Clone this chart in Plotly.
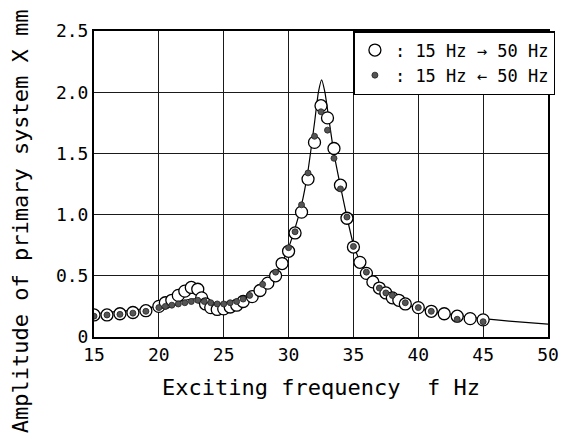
import plotly.graph_objects as go

# Theoretical curve
curve_f = [15, 16, 17, 18, 19, 20, 21, 22, 22.5, 23, 23.5, 24, 24.5, 25, 26, 27, 28, 29, 29.5,
           30, 30.5, 31, 31.5, 32, 32.3, 32.55, 32.8, 33.0, 33.5, 34, 34.5, 35, 35.5, 36, 37,
           38, 39, 40, 41, 42, 43, 44, 45, 47, 50]
curve_x = [0.19, 0.20, 0.21, 0.22, 0.235, 0.255, 0.28, 0.30, 0.31, 0.31, 0.30, 0.285, 0.275,
           0.275, 0.29, 0.33, 0.40, 0.52, 0.61, 0.73, 0.89, 1.08, 1.36, 1.75, 2.00, 2.10,
           2.00, 1.86, 1.50, 1.23, 0.98, 0.755, 0.62, 0.52, 0.40, 0.32, 0.27, 0.235, 0.21,
           0.19, 0.175, 0.16, 0.15, 0.13, 0.105]

# Measured, 15 Hz -> 50 Hz (open circles)
up_f = [15, 16, 17, 18, 19, 20, 20.5, 21, 21.5, 22, 22.5, 23, 23.3, 23.6, 24, 24.5, 25, 25.5,
        26, 26.5, 27.2, 27.8, 28.4, 29, 29.5, 30, 30.5, 31, 31.5, 32, 32.5, 33, 33.5, 34,
        34.5, 35, 35.5, 36, 36.5, 37, 37.5, 38, 38.5, 39, 40, 41, 42, 43, 44, 45]
up_x = [0.18, 0.18, 0.19, 0.20, 0.215, 0.25, 0.28, 0.30, 0.34, 0.375, 0.405, 0.39, 0.32, 0.27,
        0.24, 0.225, 0.23, 0.245, 0.26, 0.29, 0.33, 0.38, 0.44, 0.50, 0.60, 0.70, 0.85, 1.02,
        1.29, 1.59, 1.89, 1.79, 1.54, 1.24, 0.97, 0.735, 0.61, 0.52, 0.45, 0.40, 0.36, 0.32,
        0.30, 0.27, 0.24, 0.21, 0.19, 0.17, 0.15, 0.14]

# Measured, 15 Hz <- 50 Hz (filled dots)
down_f = [15, 16, 17, 18, 19, 20, 20.5, 21, 21.5, 22, 22.5, 23, 23.5, 24, 24.5, 25, 25.5, 26,
          26.5, 27, 28, 29, 30, 30.5, 31, 31.5, 32, 32.5, 33, 33.5, 34, 34.5, 35, 36, 37,
          37.5, 38, 39, 40, 41, 43, 45]
down_x = [0.17, 0.18, 0.185, 0.195, 0.21, 0.24, 0.25, 0.26, 0.27, 0.28, 0.29, 0.30, 0.29, 0.28,
          0.27, 0.27, 0.28, 0.29, 0.31, 0.34, 0.43, 0.53, 0.73, 0.86, 1.08, 1.34, 1.64, 1.84,
          1.69, 1.46, 1.21, 0.98, 0.74, 0.53, 0.40, 0.36, 0.34, 0.28, 0.24, 0.21, 0.145, 0.125]

x_ticks = [15, 20, 25, 30, 35, 40, 45, 50]
y_ticks = [0, 0.5, 1.0, 1.5, 2.0, 2.5]
y_tick_text = ["0", "0.5", "1.0", "1.5", "2.0", "2.5"]

FONT = "DejaVu Sans Mono"

fig = go.Figure()
fig.add_trace(go.Scatter(x=curve_f, y=curve_x, mode="lines", showlegend=False,
                         line=dict(color="black", width=1.2, shape="spline", smoothing=0.5),
                         hoverinfo="skip"))
fig.add_trace(go.Scatter(x=up_f, y=up_x, mode="markers", name=": 15 Hz \u2192 50 Hz",
                         marker=dict(symbol="circle", size=12, color="white",
                                     line=dict(color="black", width=1.3))))
fig.add_trace(go.Scatter(x=down_f, y=down_x, mode="markers", name=": 15 Hz \u2190 50 Hz",
                         marker=dict(symbol="circle", size=6, color="#555555",
                                     line=dict(color="#222222", width=0.8))))

fig.add_annotation(text="Amplitude of primary system X mm", textangle=-90,
                   xref="paper", yref="paper", x=-0.1616, y=0.377,
                   xanchor="center", yanchor="middle", showarrow=False,
                   font=dict(family=FONT, size=22, color="black"))

fig.update_layout(
    width=563, height=431,
    margin=dict(l=86, r=19, t=14, b=102),
    paper_bgcolor="white", plot_bgcolor="white",
    font=dict(family=FONT, size=18, color="black"),
    showlegend=True,
    legend=dict(x=0.5714, y=1, xanchor="left", yanchor="top",
                bgcolor="white", bordercolor="black", borderwidth=1.5,
                font=dict(family=FONT, size=17, color="black"),
                itemwidth=30, tracegroupgap=0),
    xaxis=dict(range=[15, 50], tickvals=x_ticks, showgrid=True, gridcolor="#1a1a1a",
               gridwidth=1.2, showline=True, linecolor="black", linewidth=2, mirror=True,
               ticks="", zeroline=False,
               tickfont=dict(family=FONT, size=18),
               title=dict(text="Exciting frequency  f Hz",
                          font=dict(family=FONT, size=22), standoff=16)),
    yaxis=dict(range=[0, 2.5], tickvals=y_ticks, ticktext=y_tick_text, showgrid=True,
               gridcolor="#1a1a1a", gridwidth=1.2, showline=True, linecolor="black",
               linewidth=2, mirror=True, ticks="", zeroline=False,
               tickfont=dict(family=FONT, size=18)),
)

fig.write_html("out.html")
